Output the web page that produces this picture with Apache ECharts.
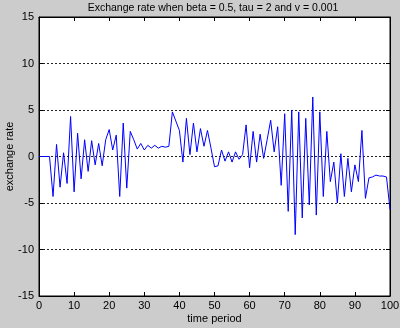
<!DOCTYPE html>
<html>
<head>
<meta charset="utf-8">
<script src="https://cdn.jsdelivr.net/npm/echarts@6/dist/echarts.min.js"></script>
<style>
  html, body { margin: 0; padding: 0; background: #cccccc; }
  #chart { width: 400px; height: 328px; }
</style>
</head>
<body>
<div id="chart"></div>
<script>
// Simulated exchange rate path, one value per time period 0..100
const rates = [
  0, 0, 0, 0, -4.3, 1.3, -3.3, 0.4, -2.9, 4.3,
  -3.8, 2.5, -2.4, 1.8, -1.6, 1.7, -0.9, 1.4, -1.0, 1.8,
  2.9, 0.7, 2.3, -4.3, 3.6, -3.4, 2.7, 1.8, 0.8, 1.4,
  0.7, 1.2, 0.9, 1.2, 0.9, 1.1, 1.0, 1.1, 4.8, 3.8,
  2.8, -0.6, 4.1, 0.2, 3.6, 0.5, 3.0, 1.1, 2.8, 0.9,
  -1.1, -1.0, 0.7, -0.5, 0.5, -0.6, 0.5, -0.3, 0.2, 3.4,
  -1.2, 2.7, -0.6, 2.4, -0.2, 1.8, 3.9, 0.5, 3.2, -3.1,
  4.6, -5.9, 5.0, -8.4, 4.8, -6.6, 4.1, -5.2, 6.4, -6.3,
  4.8, -4.3, 2.7, -2.7, -0.6, -5.0, 0.3, -4.3, -0.2, -3.8,
  -0.9, -2.7, 2.8, -4.5, -2.3, -2.2, -2.0, -2.1, -2.1, -2.2,
  -5.7
];
const xTicks = { min: 0, max: 100, step: 10 };
const yTicks = { min: -15, max: 15, step: 5 };

const titleText = 'Exchange rate when beta = 0.5, tau = 2 and v = 0.001';
const xName = 'time period';
const yName = 'exchange rate';

const font = 'Liberation Sans, Arial, Helvetica, sans-serif';

const chart = echarts.init(document.getElementById('chart'), null, { renderer: 'canvas' });

const tickStyle = { show: true, inside: true, length: 4, lineStyle: { color: '#000', width: 1 } };
const lineStyle = { show: true, onZero: false, lineStyle: { color: '#000', width: 1 } };
const labelStyle = { color: '#000', fontFamily: font, fontSize: 11 };

chart.setOption({
  backgroundColor: '#cccccc',
  animation: false,
  grid: {
    left: 39, right: 10, top: 17, bottom: 32,
    outerBoundsMode: 'none', containLabel: false,
    show: true, backgroundColor: '#ffffff', borderColor: '#000', borderWidth: 1
  },
  graphic: [{
    type: 'text', x: 213, y: 8,
    style: {
      text: titleText, fill: '#000', font: '10.5px ' + font,
      align: 'center', verticalAlign: 'middle'
    }
  }],
  xAxis: [{
    type: 'value', position: 'bottom',
    min: xTicks.min, max: xTicks.max, interval: xTicks.step,
    axisLine: lineStyle, axisTick: tickStyle,
    axisLabel: Object.assign({ margin: 4 }, labelStyle),
    splitLine: { show: false },
    name: xName, nameLocation: 'middle', nameGap: 17, nameMoveOverlap: false,
    nameTextStyle: { color: '#000', fontFamily: font, fontSize: 11 }
  }, {
    type: 'value', position: 'top',
    min: xTicks.min, max: xTicks.max, interval: xTicks.step,
    axisLine: lineStyle, axisTick: tickStyle,
    axisLabel: { show: false }, splitLine: { show: false }
  }],
  yAxis: [{
    type: 'value', position: 'left',
    min: yTicks.min, max: yTicks.max, interval: yTicks.step,
    axisLine: lineStyle, axisTick: tickStyle,
    axisLabel: Object.assign({ margin: 5 }, labelStyle),
    splitLine: { show: true, lineStyle: { color: '#222', width: 1, type: [2, 2] } },
    name: yName, nameLocation: 'middle', nameGap: 24, nameRotate: 90, nameMoveOverlap: false,
    nameTextStyle: { color: '#000', fontFamily: font, fontSize: 11 }
  }, {
    type: 'value', position: 'right',
    min: yTicks.min, max: yTicks.max, interval: yTicks.step,
    axisLine: lineStyle, axisTick: tickStyle,
    axisLabel: { show: false }, splitLine: { show: false }
  }],
  series: [{
    type: 'line',
    xAxisIndex: 0, yAxisIndex: 0,
    data: rates.map((v, i) => [i, v]),
    showSymbol: false,
    lineStyle: { color: '#0000ff', width: 1 },
    z: 3
  }]
});
</script>
</body>
</html>
